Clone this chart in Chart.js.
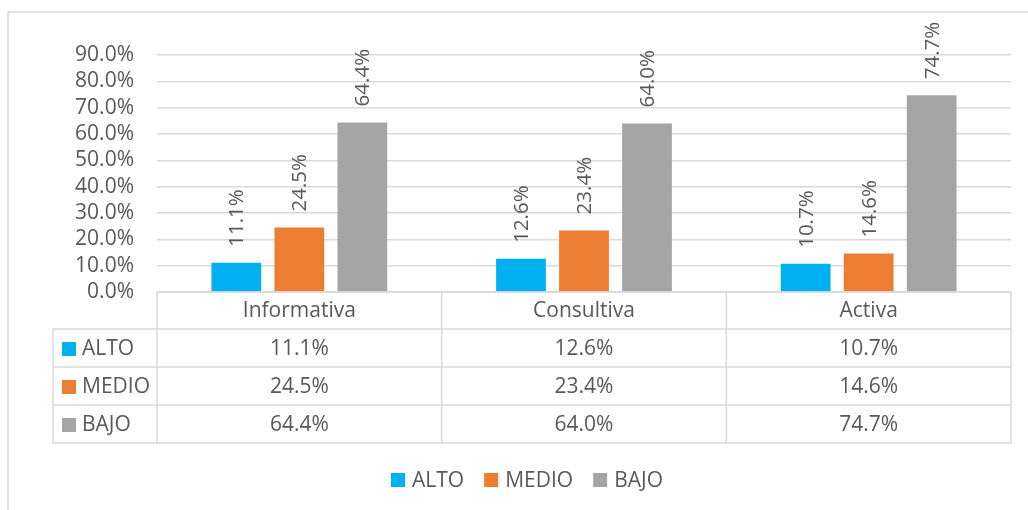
<!DOCTYPE html>
<html>
<head>
<meta charset="utf-8">
<script src="https://cdn.jsdelivr.net/npm/chart.js@4.4.1/dist/chart.umd.min.js"></script>
<style>
  body { margin: 0; background: #fff; }
  #wrap { width: 1028px; height: 510px; }
</style>
</head>
<body>
<div id="wrap"><canvas id="nivelChart" width="1028" height="510"></canvas></div>
<script>
const categories = ['Informativa', 'Consultiva', 'Activa'];
const seriesNames = ['ALTO', 'MEDIO', 'BAJO'];
const alto = [11.1, 12.6, 10.7];
const medio = [24.5, 23.4, 14.6];
const bajo = [64.4, 64.0, 74.7];
const seriesColors = ['#00B0F0', '#ED7D31', '#A5A5A5'];
const yTicks = [0, 10, 20, 30, 40, 50, 60, 70, 80, 90];

const FONT = '"Open Sans", "Liberation Sans", sans-serif';
const TEXT = '#595959';
const LINE = '#d9d9d9';

const pct = v => v.toFixed(1) + '%';

// table under the plot + legend + frame
const tablePlugin = {
    id: 'dataTable',
    afterDraw(chart) {
        const c = chart.ctx;
        const area = chart.chartArea;
        const xs = chart.scales.x;
        const n = categories.length;
        const colW = (area.right - area.left) / n;
        const headTop = area.bottom;
        const headH = 37;
        const rowH = 38;
        const keyLeft = 53;
        const bottom = headTop + headH + rowH * seriesNames.length;

        c.save();
        c.strokeStyle = LINE;
        c.lineWidth = 1.5;

        // frame of the whole chart
        c.beginPath();
        c.moveTo(8, 510); c.lineTo(8, 12); c.lineTo(1028, 12);
        c.stroke();

        c.beginPath();
        // horizontal lines
        c.moveTo(area.left, headTop); c.lineTo(area.right, headTop);
        for (let r = 0; r <= seriesNames.length; r++) {
            const y = headTop + headH + r * rowH;
            c.moveTo(keyLeft, y); c.lineTo(area.right, y);
        }
        // vertical lines
        for (let i = 0; i <= n; i++) {
            const x = area.left + i * colW;
            c.moveTo(x, headTop); c.lineTo(x, bottom);
        }
        c.moveTo(keyLeft, headTop + headH); c.lineTo(keyLeft, bottom);
        c.stroke();

        c.fillStyle = TEXT;
        c.font = '21px ' + FONT;
        c.textAlign = 'center';
        c.textBaseline = 'middle';
        categories.forEach((cat, i) => {
            c.fillText(cat, xs.getPixelForValue(i), headTop + headH / 2 + 1);
        });

        chart.data.datasets.forEach((ds, r) => {
            const yMid = headTop + headH + r * rowH + rowH / 2 + 1;
            c.fillStyle = ds.backgroundColor;
            c.fillRect(62, yMid - 7, 14, 14);
            c.fillStyle = TEXT;
            c.textAlign = 'left';
            c.fillText(ds.label, 82, yMid);
            c.textAlign = 'center';
            ds.data.forEach((v, i) => {
                c.fillText(pct(v), xs.getPixelForValue(i), yMid);
            });
        });

        // legend
        const gap = 7, box = 14, itemGap = 20;
        const widths = chart.data.datasets.map(ds => box + gap + c.measureText(ds.label).width);
        const total = widths.reduce((a, b) => a + b, 0) + itemGap * (widths.length - 1);
        let x = 527 - total / 2;
        const ly = 480;
        chart.data.datasets.forEach((ds, r) => {
            c.fillStyle = ds.backgroundColor;
            c.fillRect(x, ly - 7, box, box);
            c.fillStyle = TEXT;
            c.textAlign = 'left';
            c.fillText(ds.label, x + box + gap, ly + 1);
            x += widths[r] + itemGap;
        });
        c.restore();
    },
    afterDatasetsDraw(chart) {
        const c = chart.ctx;
        c.save();
        c.fillStyle = TEXT;
        c.font = '20.5px ' + FONT;
        c.textAlign = 'left';
        c.textBaseline = 'middle';
        chart.data.datasets.forEach((ds, d) => {
            chart.getDatasetMeta(d).data.forEach((bar, i) => {
                c.save();
                c.translate(bar.x, bar.y - 16);
                c.rotate(-Math.PI / 2);
                c.fillText(pct(ds.data[i]), 0, 1);
                c.restore();
            });
        });
        c.restore();
    }
};

const chart = new Chart(document.getElementById('nivelChart').getContext('2d'), {
    type: 'bar',
    data: {
        labels: categories,
        datasets: [
            { label: seriesNames[0], data: alto, backgroundColor: seriesColors[0] },
            { label: seriesNames[1], data: medio, backgroundColor: seriesColors[1] },
            { label: seriesNames[2], data: bajo, backgroundColor: seriesColors[2] }
        ]
    },
    options: {
        responsive: false,
        animation: false,
        categoryPercentage: 0.664,
        barPercentage: 0.79,
        layout: { padding: { top: 55, right: 17, bottom: 0, left: 0 } },
        plugins: {
            legend: { display: false },
            tooltip: { enabled: false }
        },
        scales: {
            x: {
                grid: { display: false },
                border: { display: false },
                ticks: { display: false },
                afterFit: s => { s.height = 510 - 292; }
            },
            y: {
                min: 0,
                max: 90,
                afterBuildTicks: s => { s.ticks = yTicks.map(v => ({ value: v })); },
                afterFit: s => { s.width = 157; },
                grid: { color: LINE, lineWidth: 1.5, drawTicks: false },
                border: { display: false },
                ticks: {
                    color: TEXT,
                    font: { family: FONT, size: 21, lineHeight: 1 },
                    padding: 23,
                    autoSkip: false,
                    callback: v => pct(v)
                }
            }
        }
    },
    plugins: [tablePlugin]
});
</script>
</body>
</html>
